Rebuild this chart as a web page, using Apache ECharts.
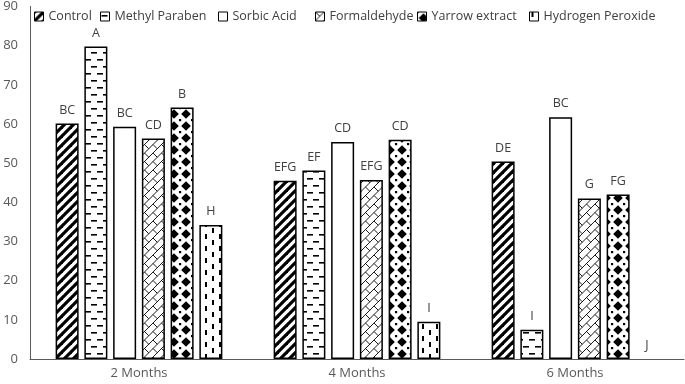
<!DOCTYPE html>
<html>
<head>
<meta charset="utf-8">
<script src="https://cdn.jsdelivr.net/npm/echarts@6/dist/echarts.min.js"></script>
<style>html,body{margin:0;padding:0;background:#fff}#c{width:685px;height:384px}</style>
</head>
<body>
<div id="c"></div>
<script>
var categories = ['2 Months', '4 Months', '6 Months'];
var seriesNames = ['Control', 'Methyl Paraben', 'Sorbic Acid', 'Formaldehyde', 'Yarrow extract', 'Hydrogen Peroxide'];
var controlVals = [60.1, 45.5, 50.4];
var methylVals = [79.8, 48.1, 7.5];
var sorbicVals = [59.3, 55.4, 61.7];
var formaldehydeVals = [56.3, 45.7, 41.0];
var yarrowVals = [64.2, 56.0, 42.0];
var peroxideVals = [34.2, 9.5, 0];
var controlLetters = ['BC', 'EFG', 'DE'];
var methylLetters = ['A', 'EF', 'I'];
var sorbicLetters = ['BC', 'CD', 'BC'];
var formaldehydeLetters = ['CD', 'EFG', 'G'];
var yarrowLetters = ['B', 'CD', 'FG'];
var peroxideLetters = ['H', 'I', 'J'];
var yTicks = [0, 10, 20, 30, 40, 50, 60, 70, 80, 90];

function tile(w, h, draw) {
  var c = document.createElement('canvas');
  c.width = w; c.height = h;
  var g = c.getContext('2d');
  g.fillStyle = '#fff'; g.fillRect(0, 0, w, h);
  g.fillStyle = '#000'; g.strokeStyle = '#000';
  draw(g, w, h);
  return { image: c, repeat: 'repeat' };
}
function seg(g, x1, y1, x2, y2) { g.beginPath(); g.moveTo(x1, y1); g.lineTo(x2, y2); g.stroke(); }

var patterns = [
  // Control: wide upward diagonal
  tile(9, 9, function (g) {
    g.lineWidth = 3.2;
    for (var k = -9; k <= 18; k += 9) seg(g, k - 2, 11, k + 11, -2);
  }),
  // Methyl: dashed horizontal
  tile(12, 14, function (g) {
    g.fillRect(1, 3, 6, 1.6);
    g.fillRect(7, 10, 5, 1.6);
    g.fillRect(0, 10, 1, 1.6);
  }),
  // Sorbic: plain
  '#ffffff',
  // Formaldehyde: diagonal brick
  tile(17, 17, function (g) {
    g.lineWidth = 0.9;
    var L = 17 / Math.SQRT2, h = L / 2, r = Math.SQRT1_2;
    function P(u, v) { return [(u + v) * r, (v - u) * r]; }
    for (var k = -8; k <= 8; k++) {
      var a = P(-60, k * h), b = P(60, k * h);
      seg(g, a[0], a[1], b[0], b[1]);
      for (var j = -8; j <= 8; j++) {
        var u = j * L + ((k & 1) ? L / 2 : 0);
        var p = P(u, k * h), q = P(u, (k + 1) * h);
        seg(g, p[0], p[1], q[0], q[1]);
      }
    }
  }),
  // Yarrow: solid diamonds
  tile(12, 12, function (g) {
    g.beginPath(); g.moveTo(6, 1.2); g.lineTo(10.8, 6); g.lineTo(6, 10.8); g.lineTo(1.2, 6); g.closePath(); g.fill();
    g.fillRect(0, 0, 1.2, 1.2); g.fillRect(11, 0, 1, 1.2); g.fillRect(0, 11, 1.2, 1); g.fillRect(11, 11, 1, 1);
  }),
  // Peroxide: dashed vertical
  tile(14, 12, function (g) {
    g.fillRect(2, 0, 2, 5);
    g.fillRect(9, 6, 2, 5);
  })
];

var dataSets = [controlVals, methylVals, sorbicVals, formaldehydeVals, yarrowVals, peroxideVals];
var letterSets = [controlLetters, methylLetters, sorbicLetters, formaldehydeLetters, yarrowLetters, peroxideLetters];
var legendLefts = [34, 100, 218, 315, 417, 529];

var FONT = 'Open Sans';
var series = seriesNames.map(function (name, i) {
  var letters = letterSets[i];
  return {
    name: name,
    type: 'bar',
    data: dataSets[i].map(function (v) {
      return v === 0 ? { value: v, itemStyle: { borderWidth: 0 } } : v;
    }),
    barWidth: 23,
    barGap: '25%',
    itemStyle: { color: patterns[i], borderColor: '#000', borderWidth: 1.5 },
    label: {
      show: true, position: 'top', distance: 7,
      color: '#404040', fontFamily: FONT, fontSize: 12.5,
      formatter: function (p) { return letters[p.dataIndex]; }
    },
    emphasis: { disabled: true },
    animation: false
  };
});

var legends = seriesNames.map(function (name, i) {
  return {
    data: [name], left: legendLefts[i], top: 10, padding: 0,
    itemWidth: 9, itemHeight: 9, icon: 'rect',
    itemStyle: { borderColor: '#000', borderWidth: 1 },
    textStyle: { color: '#404040', fontFamily: FONT, fontSize: 12.5 },
    selectedMode: false
  };
});

var chart = echarts.init(document.getElementById('c'));
chart.setOption({
  animation: false,
  legend: legends,
  grid: { left: 30, right: 1, top: 6, bottom: 25 },
  xAxis: {
    type: 'category', data: categories,
    axisLine: { lineStyle: { color: '#595959', width: 1 } },
    axisTick: { show: false },
    axisLabel: { color: '#595959', fontFamily: FONT, fontSize: 13, margin: 8 }
  },
  yAxis: {
    type: 'value', min: 0, max: 90, interval: 10,
    axisLine: { show: true, lineStyle: { color: '#595959', width: 1 } },
    axisTick: { show: false },
    splitLine: { show: false },
    axisLabel: {
      color: '#595959', fontFamily: FONT, fontSize: 13, margin: 12,
      formatter: function (v) { return yTicks.indexOf(v) >= 0 ? String(v) : ''; }
    }
  },
  series: series
});
</script>
</body>
</html>
